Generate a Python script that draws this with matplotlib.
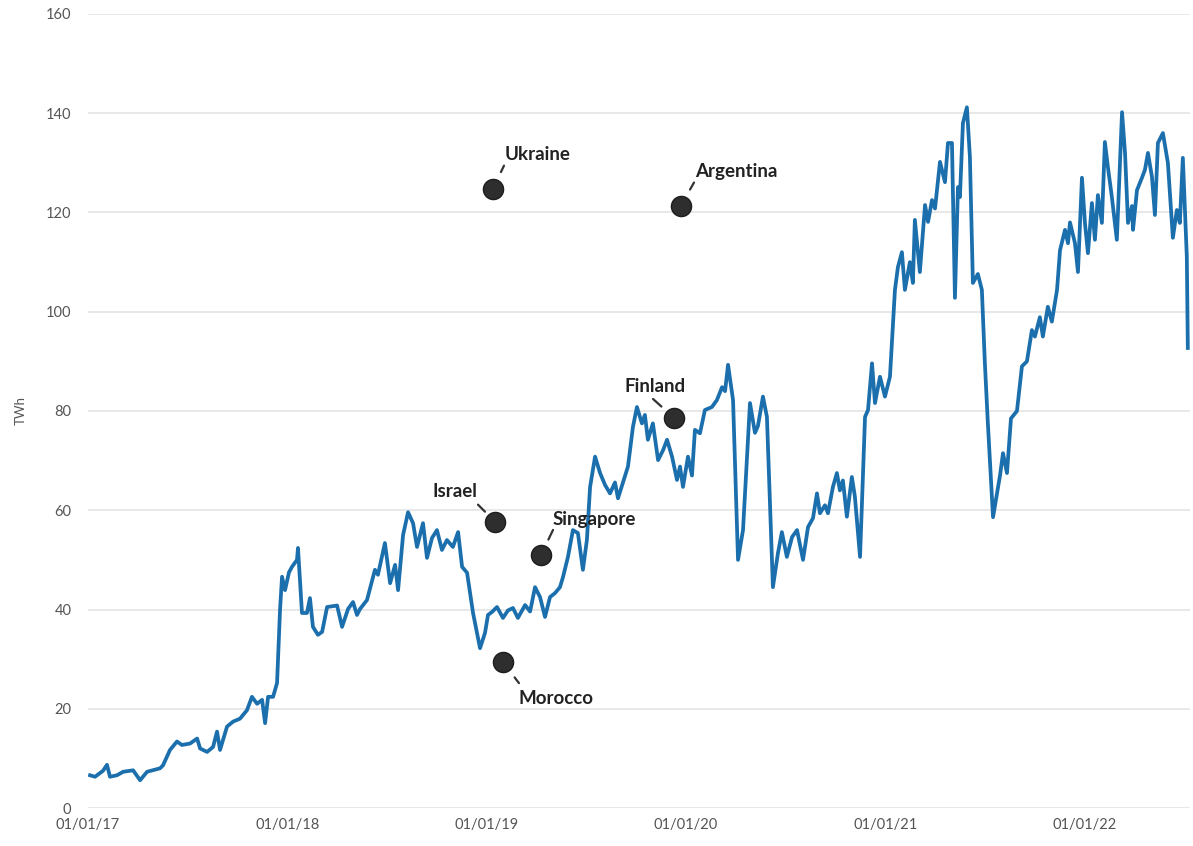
import matplotlib
matplotlib.use("Agg")
import matplotlib.pyplot as plt
import matplotlib.dates as mdates
import numpy as np
import pandas as pd

plt.rcParams["font.family"] = ["Lato", "DejaVu Sans"]

START = pd.Timestamp("2017-01-01")

# years elapsed since 01/01/17, and energy use in TWh
YEARS = [
    0.010, 0.035, 0.075, 0.095, 0.110, 0.145, 0.176, 0.226, 0.261, 0.296,
    0.361, 0.376, 0.411, 0.446, 0.471, 0.512, 0.547, 0.562, 0.597, 0.627,
    0.647, 0.662, 0.697, 0.727, 0.762, 0.797, 0.822, 0.848, 0.873, 0.888,
    0.903, 0.928, 0.948, 0.963, 0.973, 0.988, 1.008, 1.023, 1.048, 1.053,
    1.073, 1.098, 1.113, 1.128, 1.153, 1.174, 1.199, 1.249, 1.274, 1.304,
    1.329, 1.349, 1.364, 1.399, 1.439, 1.454, 1.489, 1.515, 1.540, 1.555,
    1.580, 1.605, 1.630, 1.650, 1.680, 1.700, 1.725, 1.750, 1.775, 1.800,
    1.830, 1.856, 1.876, 1.901, 1.931, 1.966, 1.991, 2.006, 2.026, 2.051,
    2.081, 2.106, 2.131, 2.156, 2.192, 2.217, 2.242, 2.267, 2.292, 2.317,
    2.342, 2.367, 2.382, 2.407, 2.432, 2.457, 2.482, 2.502, 2.518, 2.543,
    2.568, 2.593, 2.618, 2.643, 2.658, 2.683, 2.708, 2.733, 2.753, 2.778,
    2.793, 2.808, 2.833, 2.859, 2.884, 2.904, 2.929, 2.954, 2.969, 2.984,
    3.009, 3.029, 3.044, 3.069, 3.094, 3.129, 3.154, 3.180, 3.195, 3.210,
    3.235, 3.260, 3.285, 3.320, 3.345, 3.360, 3.385, 3.405, 3.435, 3.460,
    3.480, 3.505, 3.531, 3.556, 3.586, 3.611, 3.636, 3.656, 3.671, 3.696,
    3.711, 3.736, 3.756, 3.771, 3.786, 3.806, 3.831, 3.846, 3.872, 3.897,
    3.912, 3.932, 3.947, 3.972, 3.997, 4.022, 4.047, 4.062, 4.082, 4.097,
    4.122, 4.137, 4.147, 4.172, 4.198, 4.213, 4.233, 4.248, 4.273, 4.298,
    4.313, 4.333, 4.348, 4.363, 4.373, 4.388, 4.408, 4.423, 4.438, 4.463,
    4.483, 4.498, 4.513, 4.539, 4.574, 4.589, 4.609, 4.629, 4.659, 4.684,
    4.709, 4.734, 4.749, 4.774, 4.789, 4.814, 4.834, 4.860, 4.875, 4.900,
    4.915, 4.925, 4.950, 4.965, 4.985, 5.000, 5.015, 5.035, 5.050, 5.065,
    5.085, 5.100, 5.115, 5.135, 5.160, 5.186, 5.201, 5.216, 5.236, 5.241,
    5.261, 5.286, 5.301, 5.316, 5.336, 5.351, 5.366, 5.391, 5.416, 5.441,
    5.461, 5.476, 5.491, 5.511, 5.516,
]
TWH = [
    6.6, 6.3, 7.5, 8.7, 6.3, 6.6, 7.3, 7.6, 5.6, 7.3,
    8.0, 8.6, 11.7, 13.4, 12.7, 13.0, 14.0, 12.0, 11.3, 12.3,
    15.4, 11.7, 16.4, 17.4, 18.0, 19.7, 22.4, 21.0, 21.8, 17.1,
    22.4, 22.4, 25.2, 40.0, 46.6, 43.9, 47.5, 48.6, 50.0, 52.4,
    39.3, 39.3, 42.3, 36.5, 34.9, 35.5, 40.5, 40.8, 36.5, 40.1,
    41.5, 38.9, 40.1, 41.9, 48.0, 47.0, 53.4, 45.3, 49.0, 43.9,
    55.0, 59.6, 57.4, 52.6, 57.4, 50.4, 54.4, 56.0, 52.0, 54.0,
    52.6, 55.6, 48.6, 47.4, 39.3, 32.2, 35.3, 38.9, 39.5, 40.5,
    38.3, 39.8, 40.3, 38.3, 40.9, 39.6, 44.5, 42.5, 38.5, 42.5,
    43.3, 44.5, 46.5, 50.6, 56.0, 55.4, 48.0, 54.0, 64.7, 70.8,
    67.5, 65.1, 63.4, 65.6, 62.4, 65.6, 68.8, 76.8, 80.8, 77.5,
    79.2, 74.2, 77.5, 70.1, 72.1, 74.2, 70.8, 66.1, 68.8, 64.7,
    70.8, 67.0, 76.2, 75.5, 80.2, 80.8, 82.2, 84.8, 84.0, 89.3,
    82.2, 50.0, 56.0, 81.6, 75.6, 77.0, 82.9, 78.8, 44.5, 51.3,
    55.6, 50.6, 54.6, 56.0, 50.0, 56.6, 58.4, 63.4, 59.4, 61.0,
    59.4, 64.7, 67.5, 64.0, 66.0, 58.7, 66.7, 62.8, 50.6, 78.8,
    80.2, 89.6, 81.6, 86.9, 82.9, 86.9, 104.4, 109.0, 112.0, 104.4,
    110.0, 105.8, 118.5, 108.0, 121.5, 118.1, 122.5, 120.8, 130.2, 126.1,
    134.0, 134.0, 102.8, 125.1, 123.1, 138.0, 141.2, 131.2, 105.8, 107.6,
    104.4, 89.7, 77.6, 58.6, 67.0, 71.5, 67.5, 78.5, 80.0, 89.0,
    90.0, 96.3, 95.0, 98.9, 95.0, 101.0, 98.0, 104.4, 112.4, 116.5,
    113.8, 118.0, 113.8, 108.0, 127.0, 117.9, 111.8, 121.9, 114.5, 123.5,
    117.9, 134.2, 129.2, 123.1, 114.5, 140.2, 132.0, 117.9, 121.3, 116.5,
    124.5, 127.0, 128.6, 132.0, 127.2, 119.5, 134.0, 136.0, 130.0, 114.9,
    120.5, 117.9, 131.0, 111.0, 92.7,
]

COUNTRIES = ["Ukraine", "Argentina", "Finland", "Israel", "Singapore", "Morocco"]
COUNTRY_YEARS = [2.031, 2.974, 2.939, 2.041, 2.272, 2.081]
COUNTRY_TWH = [124.8, 121.4, 78.6, 57.7, 51.0, 29.4]

# label placement in pixels relative to the dot: text anchor, dash start, dash end
LABEL_LAYOUT = {
    "Ukraine": ((12, 34), "left", (7, 17), (11, 23)),
    "Argentina": ((14, 34), "left", (9, 16), (13, 23)),
    "Finland": ((12, 31), "right", (-12, 12), (-21, 19)),
    "Israel": ((-18, 30), "right", (-10, 10), (-17, 17)),
    "Singapore": ((12, 35), "left", (8, 15), (12, 25)),
    "Morocco": ((16, -36), "left", (12, -15), (16, -21)),
}


def to_dates(years):
    return START + pd.to_timedelta(np.asarray(years) * 365.25, unit="D")


fig = plt.figure(figsize=(11.93, 8.46), dpi=100)
ax = fig.add_axes([0.0738, 0.0449, 0.9237, 0.9386])

ax.plot(to_dates(YEARS), TWH, color="#1b6fad", lw=2.7, solid_joinstyle="round", zorder=3)

px = 0.72  # points per pixel at 100 dpi
for name, year, val in zip(COUNTRIES, COUNTRY_YEARS, COUNTRY_TWH):
    when = to_dates([year])[0]
    ax.plot([when], [val], "o", ms=14.5, color="#2e2e2e", mec="#1e1e1e", zorder=4)
    (tx, ty), ha, d0, d1 = LABEL_LAYOUT[name]
    ax.annotate(name, xy=(when, val), xytext=(tx * px, ty * px),
                textcoords="offset points", ha=ha, va="center",
                fontsize=13.5, fontweight="bold", color="#222222", zorder=5)
    ax.annotate("", xy=(when, val), xycoords="data", xytext=(d1[0] * px, d1[1] * px),
                textcoords="offset points",
                arrowprops=dict(arrowstyle="-", color="#333333", lw=1.6,
                                shrinkA=0, shrinkB=np.hypot(*d0) * px))

ax.set_ylim(0, 160)
ax.set_yticks(np.arange(0, 161, 20))
ax.set_xlim(START, START + pd.Timedelta(days=5.527 * 365.25))
ax.set_xticks(pd.date_range("2017-01-01", "2022-01-01", freq="YS"))
ax.xaxis.set_major_formatter(mdates.DateFormatter("%d/%m/%y"))

ax.grid(axis="y", color="#e4e4e4", lw=1.2)
ax.set_axisbelow(True)
for side in ax.spines.values():
    side.set_visible(False)
ax.tick_params(axis="y", length=0, pad=12, labelsize=10.5, labelcolor="#555555")
ax.tick_params(axis="x", length=0, pad=7, labelsize=10.5, labelcolor="#555555")
ax.set_ylabel("TWh", fontsize=9.5, color="#555555", labelpad=14)

fig.savefig("out.png", dpi=100)
